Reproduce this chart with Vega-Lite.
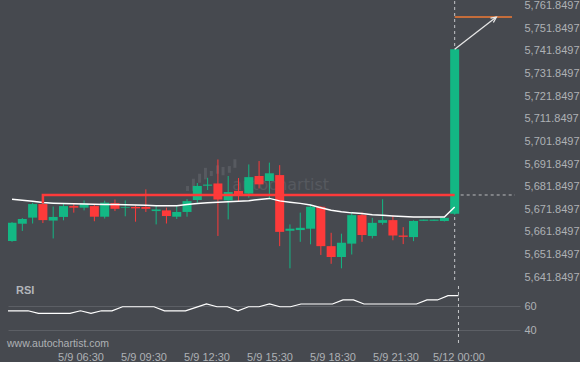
{
  "$schema": "https://vega.github.io/schema/vega-lite/v6.json",
  "background": "#46494f",
  "padding": {"left": 7, "top": -1, "right": 0, "bottom": 0},
  "spacing": 1,
  "config": {
    "view": {"stroke": null},
    "axis": {"labelFont": "Liberation Sans", "labelFontSize": 11, "labelColor": "#aeb1b5", "domain": false, "ticks": false, "grid": false, "title": null, "labelOverlap": false}
  },
  "datasets": {
    "candles": [
      {"i": 0, "t": "5/9 03:00", "o": 5657.9, "h": 5666.2, "l": 5657.5, "c": 5665.9, "ma": 5676.3, "rsi": 56.1},
      {"i": 1, "t": "5/9 03:30", "o": 5665.5, "h": 5668.0, "l": 5662.3, "c": 5667.6, "ma": 5675.9, "rsi": 56.1},
      {"i": 2, "t": "5/9 04:00", "o": 5668.2, "h": 5674.8, "l": 5665.6, "c": 5674.2, "ma": 5675.4, "rsi": 56.1},
      {"i": 3, "t": "5/9 04:30", "o": 5674.2, "h": 5674.8, "l": 5665.8, "c": 5667.1, "ma": 5674.9, "rsi": 53.9},
      {"i": 4, "t": "5/9 05:00", "o": 5666.9, "h": 5673.1, "l": 5659.0, "c": 5668.5, "ma": 5674.6, "rsi": 53.9},
      {"i": 5, "t": "5/9 05:30", "o": 5668.5, "h": 5674.4, "l": 5667.0, "c": 5673.3, "ma": 5674.4, "rsi": 53.9},
      {"i": 6, "t": "5/9 06:00", "o": 5673.3, "h": 5674.6, "l": 5670.4, "c": 5672.6, "ma": 5674.3, "rsi": 53.9},
      {"i": 7, "t": "5/9 06:30", "o": 5672.6, "h": 5675.8, "l": 5671.4, "c": 5674.4, "ma": 5674.2, "rsi": 56.1},
      {"i": 8, "t": "5/9 07:00", "o": 5673.3, "h": 5673.8, "l": 5666.6, "c": 5668.6, "ma": 5674.1, "rsi": 53.9},
      {"i": 9, "t": "5/9 07:30", "o": 5668.6, "h": 5675.7, "l": 5667.8, "c": 5674.8, "ma": 5674.0, "rsi": 56.1},
      {"i": 10, "t": "5/9 08:00", "o": 5674.6, "h": 5676.2, "l": 5671.1, "c": 5672.1, "ma": 5674.0, "rsi": 56.1},
      {"i": 11, "t": "5/9 08:30", "o": 5672.6, "h": 5675.8, "l": 5668.8, "c": 5672.9, "ma": 5673.9, "rsi": 59.4},
      {"i": 12, "t": "5/9 09:00", "o": 5672.9, "h": 5673.6, "l": 5666.4, "c": 5672.3, "ma": 5673.8, "rsi": 59.4},
      {"i": 13, "t": "5/9 09:30", "o": 5672.9, "h": 5680.7, "l": 5670.7, "c": 5672.1, "ma": 5673.7, "rsi": 59.4},
      {"i": 14, "t": "5/9 10:00", "o": 5671.1, "h": 5673.5, "l": 5665.2, "c": 5671.8, "ma": 5673.5, "rsi": 59.4},
      {"i": 15, "t": "5/9 10:30", "o": 5671.4, "h": 5672.6, "l": 5665.6, "c": 5668.9, "ma": 5673.4, "rsi": 56.1},
      {"i": 16, "t": "5/9 11:00", "o": 5668.6, "h": 5673.2, "l": 5667.6, "c": 5670.7, "ma": 5673.5, "rsi": 56.1},
      {"i": 17, "t": "5/9 11:30", "o": 5670.7, "h": 5676.4, "l": 5668.6, "c": 5675.5, "ma": 5674.0, "rsi": 56.1},
      {"i": 18, "t": "5/9 12:00", "o": 5676.0, "h": 5683.5, "l": 5674.8, "c": 5682.2, "ma": 5674.4, "rsi": 58.9},
      {"i": 19, "t": "5/9 12:30", "o": 5682.3, "h": 5685.8, "l": 5680.4, "c": 5682.8, "ma": 5674.8, "rsi": 61.7},
      {"i": 20, "t": "5/9 13:00", "o": 5683.3, "h": 5693.9, "l": 5660.1, "c": 5676.2, "ma": 5675.0, "rsi": 59.4},
      {"i": 21, "t": "5/9 13:30", "o": 5675.8, "h": 5686.6, "l": 5667.4, "c": 5679.5, "ma": 5675.2, "rsi": 59.4},
      {"i": 22, "t": "5/9 14:00", "o": 5680.0, "h": 5685.7, "l": 5675.5, "c": 5678.0, "ma": 5675.4, "rsi": 56.1},
      {"i": 23, "t": "5/9 14:30", "o": 5678.8, "h": 5691.7, "l": 5677.0, "c": 5686.1, "ma": 5675.7, "rsi": 59.4},
      {"i": 24, "t": "5/9 15:00", "o": 5686.6, "h": 5693.2, "l": 5681.1, "c": 5682.9, "ma": 5676.2, "rsi": 59.4},
      {"i": 25, "t": "5/9 15:30", "o": 5684.4, "h": 5692.5, "l": 5676.3, "c": 5687.8, "ma": 5676.7, "rsi": 61.7},
      {"i": 26, "t": "5/9 16:00", "o": 5687.0, "h": 5691.4, "l": 5655.6, "c": 5661.9, "ma": 5675.6, "rsi": 59.4},
      {"i": 27, "t": "5/9 16:30", "o": 5662.4, "h": 5665.2, "l": 5645.8, "c": 5663.3, "ma": 5675.0, "rsi": 59.4},
      {"i": 28, "t": "5/9 17:00", "o": 5662.7, "h": 5670.4, "l": 5657.5, "c": 5663.7, "ma": 5674.5, "rsi": 61.7},
      {"i": 29, "t": "5/9 17:30", "o": 5663.3, "h": 5674.1, "l": 5656.4, "c": 5673.0, "ma": 5673.8, "rsi": 61.7},
      {"i": 30, "t": "5/9 18:00", "o": 5673.0, "h": 5673.3, "l": 5651.7, "c": 5655.6, "ma": 5672.6, "rsi": 61.7},
      {"i": 31, "t": "5/9 18:30", "o": 5655.6, "h": 5661.5, "l": 5647.8, "c": 5650.8, "ma": 5671.5, "rsi": 61.7},
      {"i": 32, "t": "5/9 19:00", "o": 5650.8, "h": 5661.1, "l": 5645.8, "c": 5657.1, "ma": 5670.8, "rsi": 65.0},
      {"i": 33, "t": "5/9 19:30", "o": 5656.7, "h": 5670.7, "l": 5651.9, "c": 5669.3, "ma": 5670.3, "rsi": 65.0},
      {"i": 34, "t": "5/9 20:00", "o": 5669.3, "h": 5670.4, "l": 5657.5, "c": 5660.5, "ma": 5670.0, "rsi": 61.7},
      {"i": 35, "t": "5/9 20:30", "o": 5660.1, "h": 5668.1, "l": 5659.0, "c": 5665.9, "ma": 5669.5, "rsi": 61.7},
      {"i": 36, "t": "5/9 21:00", "o": 5665.9, "h": 5676.3, "l": 5665.1, "c": 5667.1, "ma": 5669.2, "rsi": 61.7},
      {"i": 37, "t": "5/9 21:30", "o": 5667.1, "h": 5669.1, "l": 5658.2, "c": 5660.3, "ma": 5668.9, "rsi": 61.7},
      {"i": 38, "t": "5/9 22:00", "o": 5660.3, "h": 5664.0, "l": 5656.5, "c": 5659.7, "ma": 5668.7, "rsi": 61.7},
      {"i": 39, "t": "5/9 22:30", "o": 5659.6, "h": 5667.0, "l": 5657.8, "c": 5666.7, "ma": 5668.5, "rsi": 61.7},
      {"i": 40, "t": "5/9 23:00", "o": 5666.8, "h": 5667.3, "l": 5666.8, "c": 5667.3, "ma": 5668.5, "rsi": 65.0},
      {"i": 41, "t": "5/9 23:30", "o": 5666.8, "h": 5667.3, "l": 5666.8, "c": 5667.3, "ma": 5668.5, "rsi": 65.0},
      {"i": 42, "t": "5/11 23:30", "o": 5666.7, "h": 5668.4, "l": 5666.5, "c": 5668.1, "ma": 5668.5, "rsi": 68.5},
      {"i": 43, "t": "5/12 00:00", "o": 5669.9, "h": 5742.7, "l": 5669.5, "c": 5742.6, "ma": 5672.9, "rsi": 68.5}
    ],
    "logo": [
      {"i": 17.05, "lo": 5680.0, "hi": 5682.2},
      {"i": 17.62, "lo": 5680.0, "hi": 5685.4},
      {"i": 18.22, "lo": 5683.6, "hi": 5687.6},
      {"i": 18.79, "lo": 5685.1, "hi": 5690.2},
      {"i": 19.36, "lo": 5686.6, "hi": 5688.8},
      {"i": 19.96, "lo": 5687.6, "hi": 5691.3},
      {"i": 20.5, "lo": 5686.9, "hi": 5690.6},
      {"i": 21.11, "lo": 5688.0, "hi": 5691.0},
      {"i": 21.65, "lo": 5690.2, "hi": 5694.0}
    ],
    "resistance": [
      {"i": 3, "p": 5674.5, "o": 0},
      {"i": 3, "p": 5678.2, "o": 1},
      {"i": 43, "p": 5678.2, "o": 2}
    ],
    "arrow": [
      {"s": "shaft", "i": 43, "p": 5742.6, "o": 0},
      {"s": "shaft", "i": 47.05, "p": 5756.86, "o": 1},
      {"s": "head", "i": 46.48, "p": 5756.4, "o": 0},
      {"s": "head", "i": 47.05, "p": 5756.86, "o": 1},
      {"s": "head", "i": 46.76, "p": 5754.4, "o": 2}
    ]
  },
  "vconcat": [
    {
      "width": 512,
      "height": 282,
      "encoding": {
        "x": {"type": "quantitative", "scale": {"domain": [0.095, 48.86], "nice": false, "zero": false}, "axis": null}
      },
      "layer": [
        {
          "data": {"name": "logo"},
          "mark": {"type": "bar", "width": 3, "color": "#575a60"},
          "encoding": {
            "x": {"field": "i", "type": "quantitative"},
            "y": {"field": "lo", "type": "quantitative", "scale": {"domain": [5639.31, 5763.93], "nice": false, "zero": false},
                  "axis": {"orient": "right", "values": [5641.8497, 5651.8497, 5661.8497, 5671.8497, 5681.8497, 5691.8497, 5701.8497, 5711.8497, 5721.8497, 5731.8497, 5741.8497, 5751.8497, 5761.8497], "tickCount": 30, "format": ",.4f", "labelPadding": 4, "labelOverlap": false, "labelFlush": false}},
            "y2": {"field": "hi"}
          }
        },
        {
          "data": {"values": [{"i": 26.1, "p": 5682.8, "label": "autochartist"}]},
          "mark": {"type": "text", "font": "DejaVu Sans", "fontSize": 16, "letterSpacing": 1.5, "color": "#56595f", "align": "center", "baseline": "middle"},
          "encoding": {
            "x": {"field": "i", "type": "quantitative"},
            "y": {"field": "p", "type": "quantitative"},
            "text": {"field": "label"}
          }
        },
        {
          "data": {"values": [{"i": 43}]},
          "mark": {"type": "rule", "color": "#c4c6c9", "strokeDash": [3, 3], "strokeWidth": 1},
          "encoding": {"x": {"field": "i", "type": "quantitative"}}
        },
        {
          "data": {"values": [{"i": 43, "i2": 48.86, "p": 5678.2}]},
          "mark": {"type": "rule", "color": "#b9bbbe", "strokeDash": [3, 3], "strokeWidth": 1},
          "encoding": {
            "x": {"field": "i", "type": "quantitative"},
            "x2": {"field": "i2"},
            "y": {"field": "p", "type": "quantitative"}
          }
        },
        {
          "data": {"name": "candles"},
          "mark": {"type": "rule", "strokeWidth": 1, "clip": true},
          "encoding": {
            "x": {"field": "i", "type": "quantitative"},
            "y": {"field": "l", "type": "quantitative"},
            "y2": {"field": "h"},
            "color": {"condition": {"test": "datum.c >= datum.o", "value": "#13b784"}, "value": "#fd3a3a"}
          }
        },
        {
          "data": {"name": "candles"},
          "mark": {"type": "bar", "width": 9, "clip": true},
          "encoding": {
            "x": {"field": "i", "type": "quantitative"},
            "y": {"field": "o", "type": "quantitative"},
            "y2": {"field": "c"},
            "color": {"condition": {"test": "datum.c >= datum.o", "value": "#13b784"}, "value": "#fd3a3a"}
          }
        },
        {
          "data": {"name": "candles"},
          "mark": {"type": "line", "color": "#ffffff", "strokeWidth": 1.5, "clip": true},
          "encoding": {
            "x": {"field": "i", "type": "quantitative"},
            "y": {"field": "ma", "type": "quantitative"}
          }
        },
        {
          "data": {"name": "resistance"},
          "mark": {"type": "line", "color": "#fd3a3a", "strokeWidth": 2.5},
          "encoding": {
            "x": {"field": "i", "type": "quantitative"},
            "y": {"field": "p", "type": "quantitative"},
            "order": {"field": "o"}
          }
        },
        {
          "data": {"values": [{"i": 43, "i2": 48.57, "p": 5756.86}]},
          "mark": {"type": "rule", "color": "#f07a35", "strokeWidth": 1.5},
          "encoding": {
            "x": {"field": "i", "type": "quantitative"},
            "x2": {"field": "i2"},
            "y": {"field": "p", "type": "quantitative"}
          }
        },
        {
          "data": {"name": "arrow"},
          "mark": {"type": "line", "color": "#e6e6e6", "strokeWidth": 1.3},
          "encoding": {
            "x": {"field": "i", "type": "quantitative"},
            "y": {"field": "p", "type": "quantitative"},
            "detail": {"field": "s"},
            "order": {"field": "o"}
          }
        }
      ]
    },
    {
      "width": 512,
      "height": 60,
      "encoding": {
        "x": {"type": "quantitative", "scale": {"domain": [0.095, 48.86], "nice": false, "zero": false},
              "axis": {"values": [7, 13, 19, 25, 31, 37, 43], "tickCount": 20, "labelPadding": 5, "labelOverlap": false, "labelFlush": false,
                       "labelExpr": "['5/9 06:30','5/9 09:30','5/9 12:30','5/9 15:30','5/9 18:30','5/9 21:30','5/12 00:00'][(datum.value-7)/6]"}}
      },
      "layer": [
        {
          "data": {"name": "candles"},
          "mark": {"type": "line", "color": "#ffffff", "strokeWidth": 1.2, "clip": true},
          "encoding": {
            "x": {"field": "i", "type": "quantitative"},
            "y": {"field": "rsi", "type": "quantitative", "scale": {"domain": [27.1, 76.5], "nice": false, "zero": false},
                  "axis": {"orient": "right", "values": [40, 60], "tickCount": 10, "grid": true, "gridColor": "#5c5f65", "gridWidth": 1, "labelPadding": 4}}
          }
        },
        {
          "data": {"values": [{"i": 43}]},
          "mark": {"type": "rule", "color": "#c4c6c9", "strokeDash": [3, 3], "strokeWidth": 1},
          "encoding": {"x": {"field": "i", "type": "quantitative"}}
        },
        {
          "data": {"values": [{"i": 0.857, "r": 72.3, "label": "RSI"}]},
          "mark": {"type": "text", "font": "Liberation Sans", "fontSize": 11, "fontWeight": "bold", "color": "#b3b6ba", "align": "left", "baseline": "middle"},
          "encoding": {
            "x": {"field": "i", "type": "quantitative"},
            "y": {"field": "r", "type": "quantitative"},
            "text": {"field": "label"}
          }
        },
        {
          "data": {"values": [{"i": 0, "r": 28.7, "label": "www.autochartist.com"}]},
          "mark": {"type": "text", "font": "Liberation Sans", "fontSize": 10.5, "color": "#aeb1b5", "align": "left", "baseline": "middle"},
          "encoding": {
            "x": {"field": "i", "type": "quantitative"},
            "y": {"field": "r", "type": "quantitative"},
            "text": {"field": "label"}
          }
        }
      ]
    }
  ]
}
